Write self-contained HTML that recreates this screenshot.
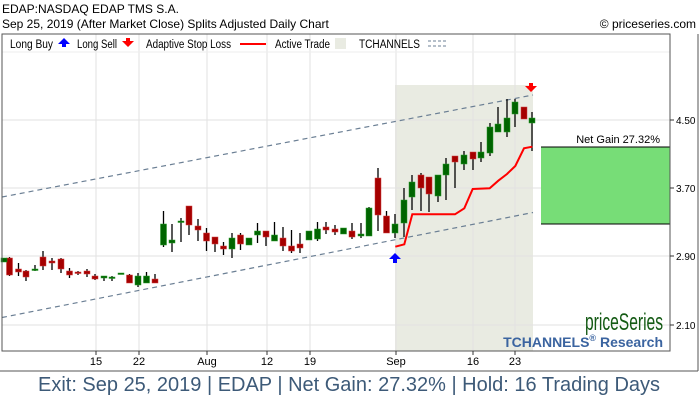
<!DOCTYPE html>
<html><head><meta charset="utf-8"><style>
html,body{margin:0;padding:0;background:#fff;}
svg{display:block;font-family:"Liberation Sans",sans-serif;}
</style></head><body>
<svg width="700" height="400" viewBox="0 0 700 400" xmlns="http://www.w3.org/2000/svg">
<rect width="700" height="400" fill="#fff"/>
<text x="2" y="13" font-size="12" fill="#000">EDAP:NASDAQ EDAP TMS S.A.</text>
<text x="2" y="28" font-size="12" fill="#000">Sep 25, 2019 (After Market Close)  Splits Adjusted Daily Chart</text>
<text x="696" y="28" font-size="12" fill="#000" text-anchor="end">© priceseries.com</text>
<rect x="395" y="85" width="138" height="266" fill="#e9ebe2"/>
<g stroke="#e2e2e2" stroke-width="1">
<line x1="2" y1="120" x2="670" y2="120"/><line x1="2" y1="188" x2="670" y2="188"/>
<line x1="2" y1="256" x2="670" y2="256"/><line x1="2" y1="325" x2="670" y2="325"/>
<line x1="96" y1="34" x2="96" y2="351"/><line x1="139" y1="34" x2="139" y2="351"/>
<line x1="207" y1="34" x2="207" y2="351"/><line x1="267" y1="34" x2="267" y2="351"/>
<line x1="310" y1="34" x2="310" y2="351"/><line x1="396" y1="34" x2="396" y2="351"/>
<line x1="473" y1="34" x2="473" y2="351"/><line x1="515" y1="34" x2="515" y2="351"/>
<line x1="2" y1="52" x2="670" y2="52" stroke="#eee"/>
</g>
<g font-size="11.5">
<text x="10" y="48" textLength="43" lengthAdjust="spacingAndGlyphs">Long Buy</text>
<polygon points="58,44 64,38 70,44 66,44 66,47 62,47 62,44" fill="#0000ff"/>
<text x="77" y="48" textLength="40" lengthAdjust="spacingAndGlyphs">Long Sell</text>
<polygon points="122,41 128,47 134,41 130,41 130,38 126,38 126,41" fill="#ff0000"/>
<text x="146" y="48" textLength="85" lengthAdjust="spacingAndGlyphs">Adaptive Stop Loss</text>
<line x1="240" y1="44" x2="266" y2="44" stroke="#ff0000" stroke-width="2"/>
<text x="275" y="48" textLength="55" lengthAdjust="spacingAndGlyphs">Active Trade</text>
<rect x="335" y="38" width="11" height="11" fill="#e9ebe2"/>
<text x="359" y="48" textLength="61" lengthAdjust="spacingAndGlyphs">TCHANNELS</text>
</g>
<g stroke="#6b7f94" stroke-width="1" stroke-dasharray="3,2"><line x1="428" y1="41" x2="446" y2="41"/><line x1="428" y1="46" x2="446" y2="46"/></g>
<g stroke="#6b7f94" stroke-width="1.2" stroke-dasharray="5,4" fill="none">
<line x1="2" y1="197" x2="533" y2="95"/>
<line x1="2" y1="317.5" x2="533" y2="212.5"/>
</g>
<g>
<path stroke="#000" stroke-width="1.3" d="M9.5 257V276M18.5 263V276M26 270V281M35 265V271M43 251V270M52 258V270M61 258V273M69.5 268V278M78 271V275M87 269V277M95 274V280M104 276V281M112 276V281M129.5 274V283M138 273V287M146.5 272V283M155 274V283M163.5 211V247M172 224V252M181 218V242M189 206V235M198 219V241M206.5 228V251M215 237V252M223.5 242V255M232 233V258M240.5 233V250M249 238V245M257.5 223V243M266 231V246M274.5 222V241M283 227V251M291.5 230V253M300 233V253M309 231V240M317.5 222V241M326 222V234M335 225V235M343.5 228V234M352 223V239M361 223V238M369 207V236M378 168V231M386.5 211V233M395 214V238M404 188V237M412 175V210M421 173V211M429 177V212M438 175V202M446 158V200M455 156V188M464 151V170M473 152V170M481 142V162M490 123V156M498 107V132M507 99V137M515 99V127M524 107V119M532 112V151"/>
<g fill="#a50000" stroke="#d04040" stroke-width="0.5">
<rect x="6.5" y="258" width="6" height="17"/><rect x="15.5" y="269" width="6" height="3"/><rect x="23" y="271" width="6" height="6"/>
<rect x="40" y="257" width="6" height="9"/><rect x="49" y="261" width="6" height="2"/><rect x="58" y="259" width="6" height="10"/>
<rect x="66.5" y="271" width="6" height="4"/><rect x="75" y="272" width="6" height="1.5"/><rect x="84" y="271" width="6" height="3"/>
<rect x="92" y="276" width="6" height="3"/><rect x="126.5" y="275" width="6" height="8"/><rect x="152" y="279" width="6" height="4"/>
<rect x="186" y="206" width="6" height="19"/><rect x="195" y="226" width="6" height="4"/><rect x="203.5" y="233" width="6" height="8"/>
<rect x="212" y="237" width="6" height="7"/><rect x="220.5" y="246" width="6" height="3"/><rect x="237.5" y="235" width="6" height="9"/>
<rect x="263" y="231" width="6" height="6"/><rect x="280" y="238" width="6" height="8"/><rect x="288.5" y="246" width="6" height="5"/>
<rect x="297" y="244" width="6" height="4"/><rect x="323" y="227" width="6" height="3"/><rect x="332" y="229" width="6" height="3"/>
<rect x="349" y="231" width="6" height="6"/><rect x="375" y="178" width="6" height="37"/><rect x="383.5" y="216" width="6" height="17"/>
<rect x="418" y="175" width="6" height="13"/><rect x="426" y="177" width="6" height="17"/><rect x="452" y="156" width="6" height="6"/>
<rect x="470" y="152" width="6" height="7"/><rect x="521" y="107" width="6" height="12"/>
</g>
<g fill="#006400" stroke="#2a9a2a" stroke-width="0.5">
<rect x="1" y="258" width="6" height="4"/><rect x="32" y="269" width="6" height="1.5"/><rect x="101" y="276" width="6" height="2"/>
<rect x="109" y="277" width="6" height="1.5"/><rect x="118" y="273" width="6" height="1.5"/><rect x="135" y="276" width="6" height="9"/>
<rect x="143.5" y="276" width="6" height="7"/><rect x="160.5" y="224" width="6" height="21"/><rect x="169" y="240" width="6" height="3"/>
<rect x="178" y="221" width="6" height="1.5"/><rect x="229" y="238" width="6" height="11"/><rect x="246" y="238" width="6" height="7"/>
<rect x="254.5" y="231" width="6" height="4"/><rect x="271.5" y="235" width="6" height="6"/><rect x="306" y="231" width="6" height="9"/>
<rect x="314.5" y="229" width="6" height="10"/><rect x="340.5" y="228" width="6" height="6"/><rect x="358" y="234" width="6" height="2"/>
<rect x="366" y="208" width="6" height="28"/><rect x="392" y="224" width="6" height="9"/><rect x="401" y="200" width="6" height="23"/>
<rect x="409" y="182" width="6" height="15"/><rect x="435" y="175" width="6" height="21"/><rect x="443" y="164" width="6" height="11"/>
<rect x="461" y="155" width="6" height="9"/><rect x="478" y="152" width="6" height="6"/><rect x="487" y="127" width="6" height="26"/>
<rect x="495" y="124" width="6" height="8"/><rect x="504" y="118" width="6" height="14"/><rect x="512" y="102" width="6" height="12"/>
<rect x="529" y="118" width="6" height="5"/>
</g>
</g>
<polyline points="395.3,246.7 404.3,244.3 412.3,214.3 455,214.3 464.3,208.3 472.7,189 489.7,188.3 498.3,180.7 507,174 515.3,166 524,148.3 532.3,146.7" fill="none" stroke="#ff0000" stroke-width="2"/>
<polygon points="389,259 395,253 401,259 397,259 397,263 393,263 393,259" fill="#0000ff"/>
<polygon points="525,86 531,92 537,86 533,86 533,83 529,83 529,86" fill="#ff0000"/>
<rect x="541" y="147" width="129" height="77" fill="#77dd77"/>
<line x1="541" y1="147" x2="670" y2="147" stroke="#000"/><line x1="541" y1="224" x2="670" y2="224" stroke="#000"/>
<text x="660" y="143" font-size="11" text-anchor="end">Net Gain 27.32%</text>
<text x="663" y="330" font-size="24" fill="#145a14" text-anchor="end" textLength="78" lengthAdjust="spacingAndGlyphs">priceSeries</text>
<text x="663" y="347" font-size="14" font-weight="bold" fill="#3b64a0" text-anchor="end">TCHANNELS<tspan font-size="9" dy="-6">®</tspan><tspan dy="6"> Research</tspan></text>
<rect x="2" y="34" width="668" height="317" fill="none" stroke="#555" stroke-width="1"/>
<line x1="0" y1="371" x2="698" y2="371" stroke="#555"/>
<line x1="698" y1="34" x2="698" y2="371" stroke="#555"/>
<g stroke="#333"><line x1="670" y1="120" x2="674" y2="120"/><line x1="670" y1="188" x2="674" y2="188"/><line x1="670" y1="256" x2="674" y2="256"/><line x1="670" y1="325" x2="674" y2="325"/>
<line x1="96" y1="351" x2="96" y2="355"/><line x1="139" y1="351" x2="139" y2="355"/><line x1="207" y1="351" x2="207" y2="355"/><line x1="267" y1="351" x2="267" y2="355"/><line x1="310" y1="351" x2="310" y2="355"/><line x1="396" y1="351" x2="396" y2="355"/><line x1="473" y1="351" x2="473" y2="355"/><line x1="515" y1="351" x2="515" y2="355"/></g>
<g font-size="10" fill="#000"><text x="676" y="124">4.50</text><text x="676" y="192">3.70</text><text x="676" y="260">2.90</text><text x="676" y="329">2.10</text></g>
<g font-size="11" fill="#000" text-anchor="middle"><text x="96" y="365">15</text><text x="139" y="365">22</text><text x="207" y="365">Aug</text><text x="267" y="365">12</text><text x="310" y="365">19</text><text x="396" y="365">Sep</text><text x="473" y="365">16</text><text x="515" y="365">23</text></g>
<text x="38" y="391" font-size="20" fill="#3d5a78" textLength="622" lengthAdjust="spacingAndGlyphs">Exit: Sep 25, 2019 | EDAP | Net Gain: 27.32% | Hold: 16 Trading Days</text>
</svg>
</body></html>
